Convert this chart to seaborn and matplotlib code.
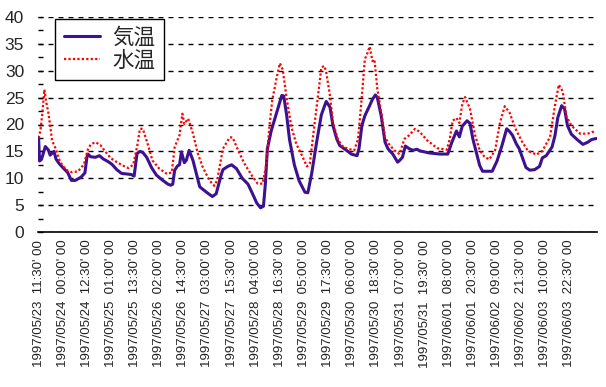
import numpy as np
import pandas as pd
import matplotlib
matplotlib.use('Agg')
import matplotlib.pyplot as plt
import seaborn as sns
from matplotlib.ticker import MultipleLocator

# data: hours since 1997/05/23 11:30 and temperatures
start = pd.Timestamp('1997-05-23 11:30')

air_hours = [0, 0.5, 1.5, 3.5, 5, 6, 8, 9, 10.5, 12.5, 15, 17, 19, 22, 24, 25, 25.5, 27,
             29.5, 31.5, 33.5, 36, 38, 40.5, 43, 45.5, 48, 49.5, 51, 52.5, 54, 56, 58.5,
             61, 64, 67, 68.5, 69.5, 70.5, 72, 73, 74, 75.5, 76.5, 78, 80, 82, 83.5, 87,
             90, 92, 94.5, 95.5, 98, 100, 102.5, 105.5, 108.5, 111, 113, 115, 116.5,
             117.5, 118.5, 120.5, 122.5, 124, 126, 127, 128.5, 130, 132.5, 135, 138,
             139.5, 141.5, 144, 146.5, 149, 151, 152.5, 154.5, 156, 159.5, 162, 165, 166,
             167.5, 169, 171.5, 173, 174.5, 175.5, 177.5, 179.5, 181, 183.5, 186, 187,
             188.5, 190, 192, 194, 196, 197.5, 202.5, 208, 212, 214, 216.5, 218, 219.5,
             222, 223.5, 225, 227, 228.5, 230, 235, 237.5, 240, 242.5, 244, 245.5, 247.5,
             249, 251, 252.5, 254.5, 257, 259.5, 261, 263, 266, 267.5, 269, 271, 272.5,
             274, 276, 279, 282, 284.5, 286.5, 289]
air_temp = [17.6, 13.2, 13.5, 15.9, 15.3, 14.3, 15.0, 13.6, 12.8, 12.0, 11.1, 9.6, 9.6, 10.2,
            11.0, 13.8, 14.5, 14.0, 13.9, 14.2, 13.6, 13.1, 12.6, 11.6, 10.9, 10.8, 10.7,
            10.4, 14.6, 15.0, 14.8, 13.9, 12.0, 10.6, 9.7, 8.9, 8.7, 8.9, 11.5, 12.3, 12.5,
            14.9, 12.9, 13.3, 15.2, 13.3, 10.5, 8.4, 7.4, 6.6, 7.1, 10.5, 11.6, 12.2, 12.5,
            11.8, 10.0, 8.9, 7.0, 5.4, 4.5, 4.8, 9.0, 15.4, 18.8, 21.2, 23.0, 25.4, 25.3,
            21.8, 17.2, 12.5, 9.5, 7.4, 7.3, 10.9, 16.6, 21.8, 24.3, 23.2, 19.8, 17.3, 16.1,
            15.2, 14.5, 14.2, 15.5, 19.8, 21.6, 23.5, 24.7, 25.5, 25.0, 21.6, 16.7, 15.5,
            14.5, 13.0, 13.3, 13.9, 16.0, 15.5, 15.2, 15.4, 15.1, 14.7, 14.5, 14.5, 16.6,
            18.8, 17.7, 19.7, 20.7, 20.2, 17.3, 14.5, 12.4, 11.3, 11.3, 13.2, 16.0, 19.2,
            18.7, 18.0, 16.4, 15.5, 13.5, 12.0, 11.5, 11.6, 12.2, 13.8, 14.2, 15.8, 17.9,
            21.3, 23.5, 22.9, 19.8, 18.2, 17.2, 16.3, 16.7, 17.2, 17.4]

water_hours = [0, 1, 2, 3, 4, 5, 6, 7, 9, 10.5, 12.5, 15, 17.5, 20.5, 23.5, 25.5, 27, 29.5,
               32, 34.5, 37.5, 41, 44, 46.5, 49, 51, 52.5, 54, 56.5, 59, 62.5, 66.5, 69,
               70.5, 73, 74.5, 75.5, 77.5, 80, 82.5, 85, 88.5, 91, 92.5, 95.5, 99, 100.5,
               103, 106.5, 110.5, 113.5, 116, 118, 119.5, 121, 123.5, 125, 126.5, 128.5,
               131, 133.5, 136.5, 139, 140.5, 142.5, 144.5, 146.5, 148, 149, 151, 152.5,
               155, 157, 160, 163.5, 165.5, 167.5, 169, 170.5, 171.5, 173, 174, 175.5,
               177.5, 179.5, 182, 185.5, 187, 189.5, 192, 195, 197.5, 201.5, 206.5, 211.5,
               213, 214.5, 216.5, 218, 219.5, 221, 223.5, 226, 228.5, 231, 233.5, 236.5,
               239, 241.5, 244, 246.5, 247.5, 250.5, 253.5, 258, 261, 265, 267.5, 269.5,
               271.5, 273.5, 276, 280.5, 284.5, 288.5]
water_temp = [17.5, 18.9, 22.3, 26.5, 24.1, 22.3, 19.8, 17.0, 15.4, 13.6, 12.3, 11.4, 11.1,
              11.3, 12.6, 15.3, 16.3, 16.7, 16.2, 15.0, 13.7, 12.9, 12.3, 11.9, 12.5, 15.8,
              19.2, 19.2, 16.4, 13.3, 11.8, 10.8, 11.1, 15.8, 18.0, 22.0, 20.1, 21.1, 18.3,
              14.6, 12.1, 9.6, 8.6, 9.6, 15.5, 17.6, 17.6, 15.5, 12.8, 10.5, 9.0, 9.0, 12.5,
              19.3, 24.4, 29.0, 31.4, 30.2, 24.9, 19.5, 16.4, 14.2, 12.2, 12.7, 18.7, 24.6,
              30.6, 30.9, 29.8, 25.3, 20.4, 17.3, 16.1, 15.5, 15.2, 17.3, 25.3, 32.1, 33.4,
              34.5, 31.8, 32.1, 26.6, 22.3, 17.6, 16.1, 14.8, 14.5, 17.3, 18.0, 19.2, 18.6,
              17.0, 15.6, 15.3, 17.3, 20.7, 21.2, 20.3, 23.8, 25.1, 22.9, 18.2, 15.2, 14.0,
              13.5, 15.2, 20.3, 23.4, 22.2, 19.8, 18.9, 16.8, 15.1, 14.4, 15.1, 17.7, 23.5,
              27.4, 26.2, 21.5, 19.8, 18.3, 18.3, 18.8]

n_labels = 23
label_step = '750min'

df_air = pd.DataFrame({'time': start + pd.to_timedelta(air_hours, unit='h'), 'temp': air_temp})
df_water = pd.DataFrame({'time': start + pd.to_timedelta(water_hours, unit='h'), 'temp': water_temp})

sns.set_style('white')
plt.rcParams['font.family'] = ['Liberation Sans', 'Noto Sans CJK JP', 'DejaVu Sans']

fig = plt.figure(figsize=(6.06, 3.87), dpi=100)
ax = fig.add_axes([38 / 606, 1 - 232 / 387, (597 - 38) / 606, (232 - 17) / 387])

sns.lineplot(data=df_air, x='time', y='temp', ax=ax, color='#3c1291', lw=2.2,
             label='気温', zorder=3)
sns.lineplot(data=df_water, x='time', y='temp', ax=ax, color='#ff0000', lw=1.6,
             linestyle=(0, (1, 1)), label='水温', zorder=4)

ax.set_ylim(0, 40)
ax.set_xlim(start - pd.Timedelta(minutes=18), start + pd.Timedelta(hours=289.3))
ax.yaxis.set_major_locator(MultipleLocator(5))
ax.yaxis.set_minor_locator(MultipleLocator(2.5))
ax.yaxis.grid(True, which='major', color='black', lw=1.0, ls=(0, (3.6, 3.6)))

ticks = pd.date_range(start, periods=n_labels, freq=label_step)
ax.set_xticks(ticks)
ax.set_xticklabels([t.strftime("%Y/%m/%d  %H:%M' 00") for t in ticks],
                   rotation=90, fontsize=9.5, va='top', ha='center')
ax.tick_params(axis='x', length=0, pad=5.5, colors='#222222')
ax.tick_params(axis='y', which='both', direction='in', left=True, length=3.6,
               width=1, color='black', labelsize=12.5, pad=10)

for side in ['top', 'right', 'left']:
    ax.spines[side].set_visible(False)
ax.spines['bottom'].set_color('black')
ax.spines['bottom'].set_linewidth(1.2)
ax.set_xlabel('')
ax.set_ylabel('')

leg = ax.legend(loc='upper left', bbox_to_anchor=(55 / 606, 1 - 19 / 387),
                bbox_transform=fig.transFigure, borderaxespad=0, frameon=True,
                fancybox=False, edgecolor='black', framealpha=1, fontsize=15.5,
                handlelength=1.7, handletextpad=0.55, labelspacing=0.1, borderpad=0.4)
leg.get_frame().set_linewidth(1.0)
leg.set_zorder(10)

fig.savefig('out.png', dpi=100)
